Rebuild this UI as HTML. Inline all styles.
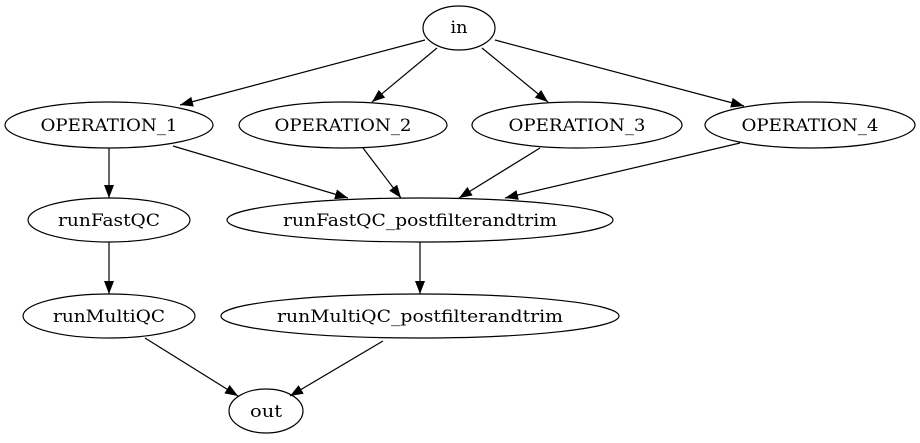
<!DOCTYPE html>
<html><head><style>body{margin:0;background:#fff}svg{display:block}text{font-family:"DejaVu Serif","Liberation Serif",serif;font-size:17px}</style></head>
<body>
<svg width="920" height="443" viewBox="0 0 920 443" xmlns="http://www.w3.org/2000/svg">
<defs><marker id="a" markerWidth="13" markerHeight="10" refX="13" refY="5" orient="auto" markerUnits="userSpaceOnUse"><path d="M0,0 L13,5 L0,10 Z" fill="#000"/></marker></defs>
<g fill="none" stroke="#000" stroke-width="1.2">
<ellipse cx="459" cy="28" rx="36" ry="22"/>
<ellipse cx="109" cy="125" rx="104" ry="23"/>
<ellipse cx="343" cy="125" rx="104" ry="23"/>
<ellipse cx="577" cy="125" rx="105" ry="23"/>
<ellipse cx="810" cy="125" rx="105" ry="23"/>
<ellipse cx="109" cy="220" rx="81" ry="22"/>
<ellipse cx="420" cy="220" rx="193" ry="22"/>
<ellipse cx="109" cy="316" rx="86" ry="22"/>
<ellipse cx="420" cy="316" rx="199" ry="22"/>
<ellipse cx="266" cy="411" rx="37" ry="22"/>
</g>
<g stroke="#000" stroke-width="1.2" marker-end="url(#a)">
<line x1="425" y1="40" x2="180" y2="105"/>
<line x1="437" y1="48" x2="372" y2="102"/>
<line x1="482" y1="48" x2="548" y2="102"/>
<line x1="495" y1="40" x2="744" y2="106"/>
<line x1="109" y1="148" x2="109" y2="198"/>
<line x1="173" y1="146" x2="348" y2="198"/>
<line x1="363" y1="148" x2="401" y2="198"/>
<line x1="540" y1="148" x2="459" y2="198"/>
<line x1="740" y1="143" x2="505" y2="198"/>
<line x1="109" y1="242" x2="109" y2="294"/>
<line x1="420" y1="242" x2="420" y2="294"/>
<line x1="145" y1="338" x2="238" y2="396"/>
<line x1="383" y1="341" x2="290" y2="396"/>
</g>
<g text-anchor="middle" fill="#000">
<text x="459" y="33" textLength="17" lengthAdjust="spacingAndGlyphs">in</text>
<text x="109" y="131" textLength="137" lengthAdjust="spacingAndGlyphs">OPERATION_1</text>
<text x="343" y="131" textLength="137" lengthAdjust="spacingAndGlyphs">OPERATION_2</text>
<text x="577" y="131" textLength="137" lengthAdjust="spacingAndGlyphs">OPERATION_3</text>
<text x="810" y="131" textLength="137" lengthAdjust="spacingAndGlyphs">OPERATION_4</text>
<text x="109" y="226" textLength="102" lengthAdjust="spacingAndGlyphs">runFastQC</text>
<text x="420" y="226" textLength="274" lengthAdjust="spacingAndGlyphs">runFastQC_postfilterandtrim</text>
<text x="109" y="322" textLength="112" lengthAdjust="spacingAndGlyphs">runMultiQC</text>
<text x="420" y="322" textLength="286" lengthAdjust="spacingAndGlyphs">runMultiQC_postfilterandtrim</text>
<text x="266" y="417" textLength="32" lengthAdjust="spacingAndGlyphs">out</text>
</g>
</svg>
</body></html>
